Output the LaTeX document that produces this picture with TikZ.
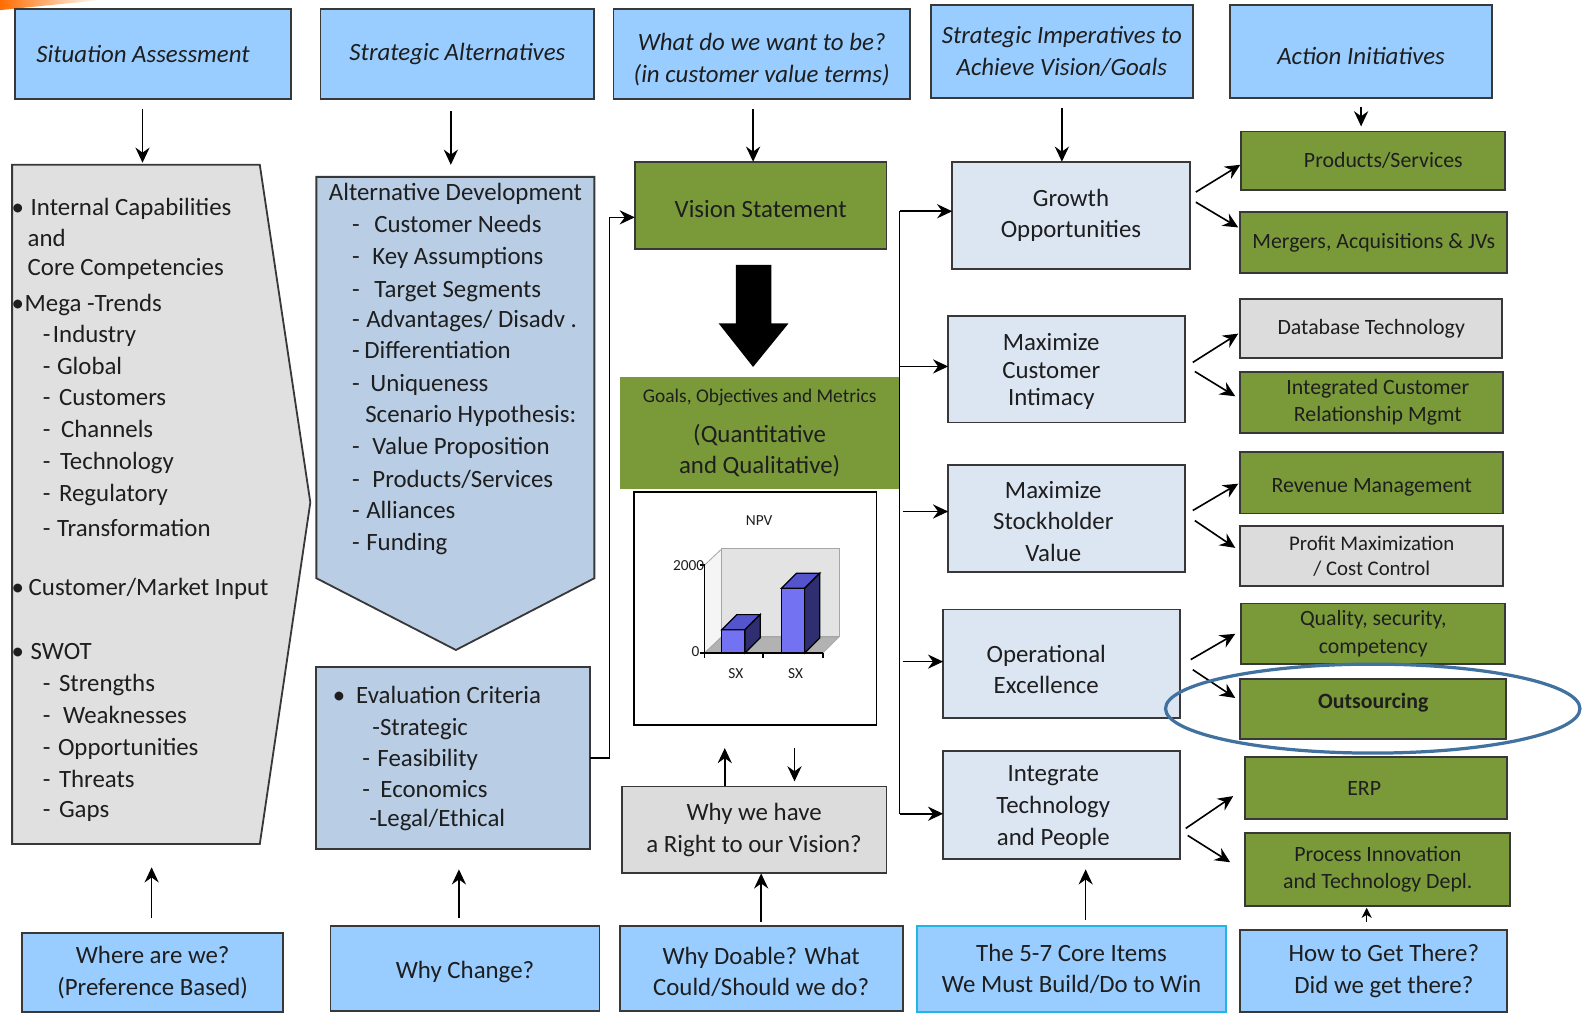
\documentclass[tikz,border=0pt]{standalone}
\usepackage{fontspec}
\setmainfont{Carlito}
\usetikzlibrary{arrows.meta,calc}

\definecolor{hdrblue}{HTML}{99CCFF}
\definecolor{chevblue}{HTML}{B9CDE5}
\definecolor{paleblue}{HTML}{DCE6F2}
\definecolor{kgreen}{HTML}{7A9A3A}
\definecolor{kgray}{HTML}{DCDCDC}
\definecolor{lgray}{HTML}{E0E0E0}
\definecolor{edge}{HTML}{383838}
\definecolor{ink}{HTML}{1E1E1E}
\definecolor{ring}{HTML}{41729F}
\definecolor{coreedge}{HTML}{1FB5E8}
\definecolor{barfront}{HTML}{7272F2}
\definecolor{bartop}{HTML}{5454CC}
\definecolor{barside}{HTML}{2E2E70}

% box from (x1,y1) to (x2,y2) in pixel units
\newcommand\boxat[7]{%
  \node[#6, minimum width={(#4-#2)*0.5pt}, minimum height={(#5-#3)*0.5pt}]
    (#1) at ({(#2+#4)/2},{(#3+#5)/2}) {#7};}
% a centred block of lines nudged left by half of #1 and down by #2
\newcommand\nudge[3]{\raisebox{-#2}[\height][\depth]{\begin{tabular}{@{}c@{}}#3\end{tabular}}\hspace*{#1}}

\begin{document}
\begin{tikzpicture}[x=0.5pt, y=-0.5pt,
  box/.style={draw=edge, line width=0.9pt, inner sep=0pt, outer sep=0pt,
    align=center, text=ink, font=\fontsize{12.3}{15.5}\selectfont},
  hdr/.style={box, fill=hdrblue, font=\itshape\fontsize{12.3}{15.5}\selectfont},
  ask/.style={box, fill=hdrblue},
  imp/.style={box, fill=paleblue},
  act/.style={box, fill=kgreen, font=\fontsize{10.8}{13.5}\selectfont},
  actg/.style={box, fill=kgray, font=\fontsize{10.8}{13.5}\selectfont},
  lst/.style={anchor=west, inner sep=0pt, text height=8.6pt, text depth=2.6pt,
    text=ink, font=\fontsize{12.3}{14}\selectfont},
  tiny/.style={inner sep=0pt, text=ink, font=\fontsize{7.6}{9}\selectfont},
  arr/.style={draw=black, line width=0.8pt,
    -{Stealth[length=7.5pt, width=7pt, inset=2.5pt]}},
  wire/.style={draw=black, line width=0.8pt},
]
\useasboundingbox (0,0) rectangle (1568,1003);

% corner swoosh
\shade[left color=orange!85!red, right color=white]
  (0,0) -- (100,0) .. controls (60,4) .. (0,10) -- cycle;

% ---------- header row ----------
\boxat{sa}{15}{9}{288}{98}{hdr}{\nudge{10pt}{1pt}{Situation Assessment}}
\boxat{salt}{317}{9}{588}{98}{hdr}{Strategic Alternatives}
\boxat{want}{607}{9}{900}{98}{hdr}{\rule{0pt}{14pt}What do we want to be?\\(in customer value terms)}
\boxat{imph}{921}{5}{1180}{97}{hdr}{Strategic Imperatives to\\Achieve Vision/Goals}
\boxat{acth}{1217}{5}{1476}{97}{hdr}{\rule{0pt}{13pt}Action Initiatives}

% ---------- situation assessment chevron ----------
\path[draw=edge, fill=lgray, line width=0.9pt]
  (12,163) -- (257,163) -- (307,497) -- (257,835) -- (12,835) -- cycle;
\coordinate (sit-top) at (141,163);
\coordinate (sit-bot) at (150,835);
\foreach \ty [count=\i] in {207,302,583,646}
  \node[lst] (sb-\i) at (11,\ty) {\textbullet};
\foreach \tx/\ty/\txt [count=\i] in {
  30/207/{Internal Capabilities}, 27/238/and, 27/267/{Core Competencies},
  24/302/{Mega -Trends}, 52/333/Industry, 56/364/Global, 58/395/Customers,
  60/427/Channels, 59/458/Technology, 58/490/Regulatory,
  56/525/Transformation, 28/583/{Customer/Market Input}, 30/646/SWOT,
  58/678/Strengths, 62/710/Weaknesses, 57/741/Opportunities,
  58/773/Threats, 58/803/Gaps}
  \node[lst] (st-\i) at (\tx,\ty) {\txt};
\foreach \ty [count=\i] in {333,364,395,427,458,490,525,678,710,741,773,803}
  \node[lst] (sd-\i) at (42,\ty) {-};

% ---------- alternatives chevron ----------
\path[draw=edge, fill=chevblue, line width=0.9pt]
  (313,175) -- (588,175) -- (588,572) -- (451,643) -- (313,572) -- cycle;
\coordinate (alt-top) at (446,175);
\foreach \tx/\ty/\txt [count=\i] in {
  325/192/{Alternative Development}, 370/224/{Customer Needs},
  368/256/{Key Assumptions}, 370/288/{Target Segments},
  362/318/{Advantages/ Disadv .}, 360/349/Differentiation,
  366/381/Uniqueness, 361/412/{Scenario Hypothesis:},
  368/444/{Value Proposition}, 368/476/{Products/Services},
  362/507/Alliances, 362/539/Funding}
  \node[lst] (at-\i) at (\tx,\ty) {\txt};
\foreach \ty [count=\i] in {224,256,288,318,349,381,444,476,507,539}
  \node[lst] (ad-\i) at (348,\ty) {-};

% ---------- evaluation criteria ----------
\boxat{eval}{313}{660}{584}{840}{box, fill=chevblue}{}
\node[lst] (eb) at (329,690) {\textbullet};
\foreach \tx/\ty/\txt [count=\i] in {
  352/690/{Evaluation Criteria}, 368/722/{-Strategic}, 373/752/Feasibility,
  376/783/Economics, 365/812/{-Legal/Ethical}}
  \node[lst] (et-\i) at (\tx,\ty) {\txt};
\foreach \ty [count=\i] in {752,783}
  \node[lst] (ed-\i) at (358,\ty) {-};

% ---------- vision column ----------
\boxat{vis}{628}{160}{877}{246}{box, fill=kgreen}{\rule{0pt}{12pt}Vision Statement}
\fill[black] (728,262) -- (763,262) -- (763,320) -- (780,320) -- (745,363)
  -- (711,320) -- (728,320) -- cycle;
\boxat{goals}{613}{373}{890}{484}{box, draw=none, fill=kgreen}%
  {{\fontsize{9.6}{12}\selectfont Goals, Objectives and Metrics}\\[4pt](Quantitative\\and Qualitative)}
\boxat{chart}{627}{487}{867}{717}{draw=black, line width=0.8pt, fill=white, inner sep=0pt, outer sep=0pt}{}

% NPV bar chart
\path[fill=gray!8, draw=gray!70, line width=0.4pt]
  (697,559) -- (714,543) -- (714,630) -- (697,646) -- cycle;
\path[fill=gray!22, draw=gray!70, line width=0.4pt] (714,543) rectangle (830,630);
\path[fill=gray!60, draw=gray!70, line width=0.4pt]
  (697,646) -- (714,630) -- (830,630) -- (814,646) -- cycle;
\draw[black, line width=0.7pt] (692,559) -- (697,559) -- (697,646) -- (814,646);
\draw[black, line width=0.7pt] (692,646) -- (697,646) -- (697,651)
  (755,646) -- (755,651) (814,646) -- (814,651);
\foreach \bx/\by in {714/623, 773/582}{
  \path[fill=barfront, draw=black, line width=0.6pt] (\bx,\by) rectangle (\bx+23,646);
  \path[fill=bartop, draw=black, line width=0.6pt]
    (\bx,\by) -- (\bx+15,\by-15) -- (\bx+38,\by-15) -- (\bx+23,\by) -- cycle;
  \path[fill=barside, draw=black, line width=0.6pt]
    (\bx+23,\by) -- (\bx+38,\by-15) -- (\bx+38,631) -- (\bx+23,646) -- cycle;
}
\node[tiny] (npv) at (751,515) {NPV};
\node[tiny, anchor=east] (ymax) at (697,559) {2000};
\node[tiny] (ymin) at (688,645) {0};
\node[tiny] (sx1) at (728,666) {SX};
\node[tiny] (sx2) at (787,666) {SX};

\boxat{why}{615}{778}{877}{864}{box, fill=kgray}{Why we have\\a Right to our Vision?}

% ---------- strategic imperatives ----------
\boxat{grow}{942}{160}{1177}{266}{imp}{Growth\\Opportunities}
\boxat{mci}{938}{313}{1172}{418}{imp, font=\fontsize{12.3}{13.6}\selectfont}%
  {\nudge{15pt}{1.5pt}{Maximize\\Customer\\Intimacy}}
\boxat{msv}{938}{460}{1172}{566}{imp}%
  {\nudge{13pt}{2.5pt}{Maximize\\Stockholder\\Value}}
\boxat{opx}{933}{603}{1167}{710}{imp}%
  {\nudge{15pt}{4pt}{Operational\\Excellence}}
\boxat{itp}{933}{743}{1167}{850}{imp, font=\fontsize{12.3}{15.8}\selectfont}%
  {\nudge{8pt}{1pt}{Integrate\\Technology\\and People}}

% ---------- action initiatives ----------
\boxat{prod}{1228}{130}{1489}{188}{act}{\hspace*{10pt}Products/Services}
\boxat{merg}{1227}{210}{1491}{270}{act}{Mergers, Acquisitions \& JVs}
\boxat{dbt}{1227}{296}{1486}{354}{actg}{Database Technology}
\boxat{icrm}{1227}{368}{1487}{428}{act}{\hspace*{6pt}Integrated Customer\\\hspace*{6pt}Relationship Mgmt}
\boxat{rev}{1227}{447}{1487}{508}{act}{\rule{0pt}{12pt}Revenue Management}
\boxat{pmax}{1227}{520}{1487}{580}{actg, font=\fontsize{10.3}{12.5}\selectfont}{Profit Maximization\\/ Cost Control}
\boxat{qual}{1228}{597}{1489}{657}{act}{Quality, security,\\competency}
\boxat{outs}{1227}{672}{1490}{731}{act, font=\bfseries\fontsize{10.8}{13.5}\selectfont}{Outsourcing\rule[-8pt]{0pt}{8pt}}
\boxat{erp}{1232}{749}{1491}{810}{act}{\nudge{12pt}{1pt}{ERP}}
\boxat{proc}{1232}{824}{1494}{896}{act}{Process Innovation\\and Technology Depl.}

% ---------- question row ----------
\boxat{where}{22}{923}{280}{1001}{ask}{Where are we?\\(Preference Based)}
\boxat{chg}{327}{916}{593}{1000}{ask}{\rule{0pt}{12pt}Why Change?}
\boxat{doable}{613}{916}{893}{1000}{ask}{\rule{0pt}{12pt}Why Doable? What\\Could/Should we do?}
\boxat{core}{907}{916}{1213}{1001}{ask, draw=coreedge}{The 5-7 Core Items\\We Must Build/Do to Win}
\boxat{how}{1227}{920}{1491}{1001}{ask}{\hspace*{10pt}How to Get There?\\\hspace*{10pt}Did we get there?}

% ---------- connectors ----------
\coordinate (v-in) at (745,160);
\draw[arr, shorten <=5pt, shorten >=1pt] (sa.south -| sit-top) -- (sit-top);
\draw[arr, shorten <=6pt, shorten >=6pt] (salt.south -| alt-top) -- (alt-top);
\draw[arr, shorten <=5pt] (want.south -| v-in) -- (v-in);
\draw[arr, shorten <=5pt] (imph.south) -- (imph.south |- grow.north);
\draw[arr, shorten <=4.5pt, shorten >=2.5pt] (acth.south) -- (acth.south |- prod.north);

% evaluation feeds the vision
\draw[arr] (eval.east) -- ++(19,0) |- ($(vis.west)+(0,12)$);

% bus to the strategic imperatives
\coordinate (bus-top) at (890,209);
\coordinate (bus-bot) at (890,805);
\draw[wire] (bus-top) -- (bus-bot);
\draw[arr] (bus-top) -- (bus-top -| grow.west);
\draw[arr] ($(mci.west -| bus-top)+(0,-3)$) -- ($(mci.west)+(0,-3)$);
\draw[arr] ($(msv.west -| bus-top)+(3,-7)$) -- ($(msv.west)+(0,-7)$);
\draw[arr] ($(opx.west -| bus-top)+(3,-2)$) -- ($(opx.west)+(0,-2)$);
\draw[arr] (bus-bot) -- (bus-bot -| itp.west);

% imperatives to initiatives
\foreach \s/\sx/\sy/\t/\tx/\ty in {
  grow/6/-23/prod/-1/4, grow/6/-13/merg/-2/-15,
  mci/8/-7/dbt/-2/5, mci/10/2/icrm/-5/-6,
  msv/8/-8/rev/-2/1, msv/10/2/pmax/-5/-8,
  opx/11/-4/qual/-6/0, opx/13/6/outs/-5/-11,
  itp/6/23/erp/-12/8, itp/8/30/proc/-15/-7}
  \draw[arr] ($(\s.east)+(\sx,\sy)$) -- ($(\t.west)+(\tx,\ty)$);

% right to the vision
\draw[arr] ($(why.north)+(-29,0)$) -- ($(chart.south)+(-30,23)$);
\draw[arr] ($(chart.south)+(39,23)$) -- ($(why.north)+(40,-5)$);

% questions feed upward
\draw[arr, shorten <=7.5pt, shorten >=11.5pt] (where.north -| sit-bot) -- (sit-bot);
\draw[arr, shorten <=4pt, shorten >=10pt] ($(chg.north)+(-6,0)$) coordinate (c-chg) -- (c-chg |- eval.south);
\draw[arr, shorten <=2pt] (doable.north) -- (doable.north |- why.south);
\draw[arr, shorten <=3pt, shorten >=5pt] ($(core.north)+(14,0)$) coordinate (c-core) -- (c-core |- itp.south);
\draw[draw=black, line width=0.8pt, -{Stealth[length=5pt, width=5pt, inset=1.5pt]},
  shorten <=4pt, shorten >=1pt] ($(how.north)+(-7,0)$) coordinate (c-how) -- (c-how |- proc.south);

% highlight ring
\draw[ring, line width=1.6pt] (1358,701) ellipse [x radius=205, y radius=44];
\end{tikzpicture}
\end{document}
